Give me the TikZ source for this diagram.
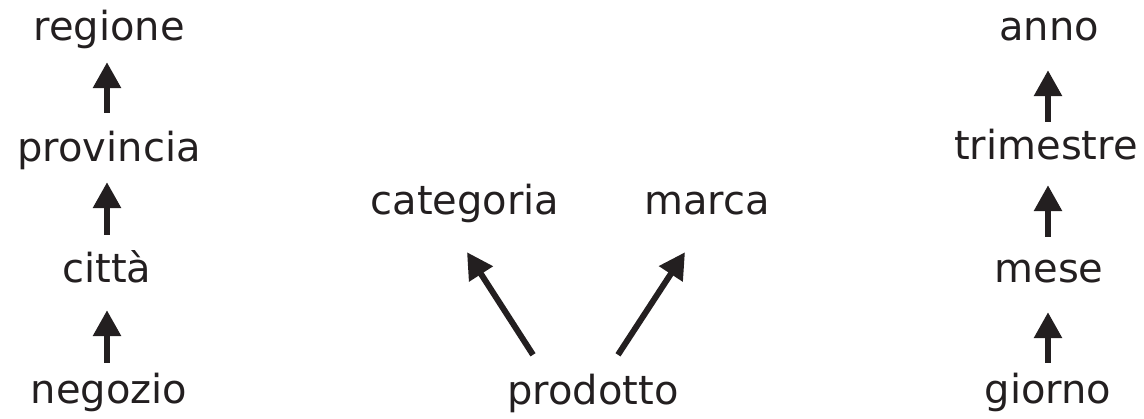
\documentclass[tikz,border=0pt]{standalone}
\usepackage{fontspec}
\setmainfont{DejaVu Sans}
\usetikzlibrary{arrows.meta}
\definecolor{ink}{HTML}{231F20}
\begin{document}
\begin{tikzpicture}[x=1pt,y=-1pt,
  lbl/.style={anchor=base,inner sep=0pt,text=ink,font=\fontsize{40}{48}\selectfont,
    text height=32pt,text depth=10pt},
  arr/.style={draw=ink,line width=6pt,-{Triangle[length=26pt,width=27pt]}}]
\useasboundingbox (0,0) rectangle (1144,419);
% left column
\node[lbl] (regione) at (109,41) {regione};
\node[lbl] (provincia) at (109,162) {provincia};
\node[lbl] (citta) at (107,283) {città};
\node[lbl] (negozio) at (109,404) {negozio};
\draw[arr,shorten <=17pt,shorten >=11pt] (provincia.north -| 107,0) -- (regione.south -| 107,0);
\draw[arr,shorten <=16pt,shorten >=10pt] (citta.north -| 107,0) -- (provincia.south -| 107,0);
\draw[arr,shorten <=9pt,shorten >=17pt] (negozio.north -| 107,0) -- (citta.south -| 107,0);
% middle
\node[lbl] (categoria) at (465,215) {categoria};
\node[lbl] (marca) at (707,215) {marca};
\node[lbl] (prodotto) at (593,405) {prodotto};
\draw[arr] ([shift={(-60pt,18pt)}]prodotto.north) -- ([shift={(2pt,-27pt)}]categoria.south);
\draw[arr] ([shift={(25pt,18pt)}]prodotto.north) -- ([shift={(-22pt,-27pt)}]marca.south);
% right column
\node[lbl] (anno) at (1049,41) {anno};
\node[lbl] (trimestre) at (1046,160) {trimestre};
\node[lbl] (mese) at (1049,283) {mese};
\node[lbl] (giorno) at (1048,404) {giorno};
\draw[arr,shorten <=6pt,shorten >=19pt] (trimestre.north -| 1048,0) -- (anno.south -| 1048,0);
\draw[arr,shorten <=14pt,shorten >=15pt] (mese.north -| 1048,0) -- (trimestre.south -| 1048,0);
\draw[arr,shorten <=9pt,shorten >=19pt] (giorno.north -| 1048,0) -- (mese.south -| 1048,0);
\end{tikzpicture}
\end{document}
